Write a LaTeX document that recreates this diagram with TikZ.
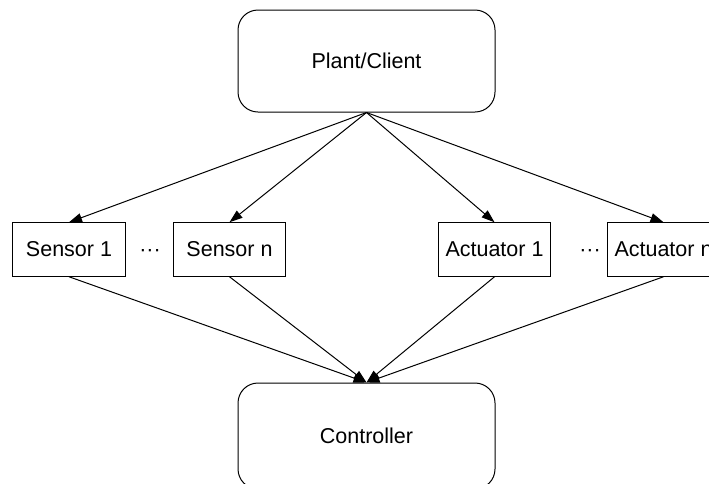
\documentclass[tikz,border=0pt]{standalone}
\usepackage{fontspec}
\setmainfont{Liberation Sans}
\usetikzlibrary{arrows.meta}
\begin{document}
\begin{tikzpicture}[x=1pt,y=-1pt,
  every node/.style={font=\fontsize{21.5}{25}\selectfont},
  bigbox/.style={draw, line width=1pt, rounded corners=20pt,
    minimum width=257pt, minimum height=102pt, inner sep=0pt},
  unitbox/.style={draw, line width=1pt, minimum width=112.5pt,
    minimum height=53.5pt, inner sep=0pt},
  link/.style={line width=1pt, -{Triangle[length=13pt,width=9pt]}}]
  \useasboundingbox (0,0) rectangle (709,483);
  \clip (0,0) rectangle (709,483);
  % top and bottom blocks
  \node[bigbox] (plant) at (366.5,61) {Plant/Client};
  \node[bigbox, minimum height=106pt] (ctrl) at (366.5,436) {Controller};
  % sensors and actuators
  \node[unitbox] (s1) at (69,249.5) {Sensor 1};
  \node[unitbox] (sn) at (229.5,249.5) {Sensor n};
  \node[unitbox] (a1) at (494.5,249.5) {Actuator 1};
  \node[unitbox] (an) at (663.5,249.5) {Actuator n};
  \node (d1) at (150,253) {···};
  \node (d2) at (590,253) {···};
  % plant to sensors and actuators
  \foreach \t in {s1,sn,a1,an}
    \draw[link] (plant.south) -- (\t.north);
  % sensors and actuators to controller
  \foreach \t in {s1,sn,a1,an}
    \draw[link] (\t.south) -- (ctrl.north);
\end{tikzpicture}
\end{document}
